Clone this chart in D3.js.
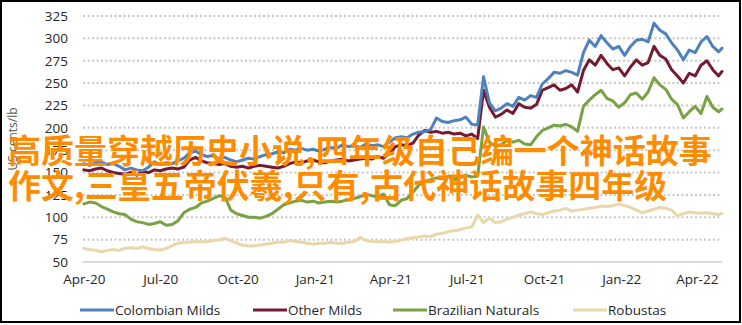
<!DOCTYPE html>
<html><head><meta charset="utf-8">
<script src="https://cdn.jsdelivr.net/npm/d3@7/dist/d3.min.js"></script>
<style>
html,body{margin:0;padding:0;background:#fff;}
svg{display:block;}
</style>
</head><body>
<svg id="chart" width="742" height="325"></svg>
<script>
// ---- data (US cents/lb, weekly from 2020-04-01, last point 2022-05-01) ----
const startDate = "2020-04-01";
const endDate = "2022-05-01";
const seriesNames = ["Colombian Milds", "Other Milds", "Brazilian Naturals", "Robustas"];
const colombianMilds = [160,158,161,162,159,160,157,153,155,153,152,156,162,159,161,160,163,166,172,174,
170,168,169,165,167,164,162,164,166,165,168,170,171,173,172,176,175,177,175,176,
174,176,178,177,181,179,180,178,182,180,181,179,184,189,190,189,193,195,196,198,
211,207,206,208,209,212,204,203,257,228,219,222,227,224,234,231,236,234,249,255,
262,261,264,262,259,284,298,291,303,295,288,291,281,291,298,299,296,317,309,305,
295,287,276,287,284,296,302,291,285,289];
const otherMilds = [153,152,154,155,152,150,149,148,150,147,151,150,153,152,154,155,154,156,164,167,
163,161,160,159,160,157,156,157,155,157,158,157,156,155,157,160,162,161,163,164,
162,161,163,164,165,163,164,165,166,165,168,166,172,179,181,180,183,192,197,195,
196,194,195,193,194,191,193,188,242,223,212,215,220,216,227,223,222,226,242,245,
248,242,244,248,240,264,276,270,281,272,265,267,258,268,276,270,273,291,281,277,
265,258,250,261,258,270,275,265,258,263];
const brazilianNaturals = [115,117,116,112,109,106,104,103,98,95,94,92,93,95,91,92,96,105,109,111,
116,118,121,124,123,108,104,102,100,100,99,101,104,109,114,116,118,119,117,118,
116,117,118,117,118,120,121,123,126,124,123,126,114,113,119,121,128,136,140,142,
144,143,146,142,144,147,145,146,201,184,180,181,186,184,186,182,181,190,197,200,
203,202,204,201,196,224,231,237,242,233,230,223,228,237,239,232,240,256,248,243,
232,226,211,218,224,216,235,223,218,221];
const robustas = [65,64,63,61.5,63,64,63,65.5,66,65,67,65,64,63.5,65,68,71,72,72,73,
72.5,73,74,74.5,76.5,74,71,69,68,68,69,70,71,72,72,74,73,72,71,70,
71,71,72,71,71,72,73,77.5,74,73,72.5,73,72,73,74.5,76,77,78,79,78.5,
81,82,84,85,86,88,89,102.5,94,99,94,95,98,100,102.5,104,106,104,103,105,
107,108,110,107,108,109,110,111,112.5,112,113,115,113,111,108,105,107,109,111,110,
108,101.5,104,106,105,104.5,105,104,103,104.5];
const yTicks = [50,75,100,125,150,175,200,225,250,275,300,325];
const xTickDates = ["2020-04-01","2020-07-01","2020-10-01","2021-01-01","2021-04-01","2021-07-01","2021-10-01","2022-01-01","2022-04-01"];
const yTitle = "US cents/lb";
const overlayLines = ["高质量穿越历史小说,四年级自己编一个神话故事", "作文,三皇五帝伏羲,只有,古代神话故事四年级"];
const colors = ["#4F81BD", "#741B30", "#78A244", "#EAD7A9"];

// ---- build ----
const parse = d3.timeParse("%Y-%m-%d");
const start = parse(startDate);
const nWeeks = colombianMilds.length - 1;
const dates = d3.range(nWeeks).map(i => d3.timeDay.offset(start, 7 * i)).concat([parse(endDate)]);
const allSeries = [colombianMilds, otherMilds, brazilianNaturals, robustas];

const svg = d3.select("#chart");
const font = "'Open Sans', 'Liberation Sans', sans-serif";

const x = d3.scaleTime().domain([parse("2020-03-31"), parse("2022-05-01")]).range([83, 722]);
const y = d3.scaleLinear().domain([50, 325]).range([262, 16]);

// frame
svg.append("rect").attr("x", 1).attr("y", 1).attr("width", 739).attr("height", 321)
  .attr("fill", "none").attr("stroke", "#000").attr("stroke-width", 2);

// gridlines
svg.append("g").selectAll("line").data(yTicks.filter(d => d > 50)).join("line")
  .attr("x1", 83).attr("x2", 722).attr("y1", d => y(d)).attr("y2", d => y(d))
  .attr("stroke", "#C8C8C8").attr("stroke-width", 2).attr("stroke-dasharray", "2,2.5");
svg.append("line").attr("x1", 83).attr("x2", 722).attr("y1", y(50)).attr("y2", y(50))
  .attr("stroke", "#D9D9D9").attr("stroke-width", 2);

// y axis
const yAxis = d3.axisLeft(y).tickValues(yTicks).tickSize(0).tickPadding(0).tickFormat(d3.format("d"));
const gy = svg.append("g").attr("transform", "translate(68,0)").call(yAxis);
gy.select(".domain").remove();
gy.selectAll("text").attr("font-family", font).attr("font-size", 13.5).attr("fill", "#262626");

// x axis
const xAxis = d3.axisBottom(x).tickValues(xTickDates.map(parse)).tickSize(0).tickPadding(0)
  .tickFormat(d3.timeFormat("%b-%y"));
const gx = svg.append("g").attr("transform", "translate(0,274)").call(xAxis);
gx.select(".domain").remove();
gx.selectAll("text").attr("font-family", font).attr("font-size", 13.5).attr("fill", "#262626");

// y title
svg.append("text").attr("transform", `translate(17,${y(187.5)}) rotate(-90)`)
  .attr("text-anchor", "middle").attr("font-family", font).attr("font-size", 12)
  .attr("fill", "#595959").text(yTitle);

// lines (draw robustas first)
const line = d3.line().x((d, i) => x(dates[i])).y(d => y(d));
[3, 2, 1, 0].forEach(k => {
  svg.append("path").datum(allSeries[k]).attr("d", line)
    .attr("fill", "none").attr("stroke", colors[k]).attr("stroke-width", 3)
    .attr("stroke-linejoin", "round").attr("stroke-linecap", "round");
});

// legend
const legendX = [80, 253, 393, 573];
const lg = svg.append("g");
seriesNames.forEach((name, k) => {
  lg.append("line").attr("x1", legendX[k]).attr("x2", legendX[k] + 34).attr("y1", 310).attr("y2", 310)
    .attr("stroke", colors[k]).attr("stroke-width", 3);
  lg.append("text").attr("x", legendX[k] + 35).attr("y", 310).attr("dy", "0.35em")
    .attr("font-family", font).attr("font-size", 13.5).attr("fill", "#262626").text(name);
});

// overlay text
overlayLines.forEach((t, i) => {
  svg.append("text").attr("x", 8).attr("y", 163 + i * 35)
    .attr("font-family", "'Noto Sans CJK SC', sans-serif").attr("font-weight", "bold")
    .attr("font-size", 33).attr("fill", "#FF8C00").text(t);
});
</script>
</body></html>
